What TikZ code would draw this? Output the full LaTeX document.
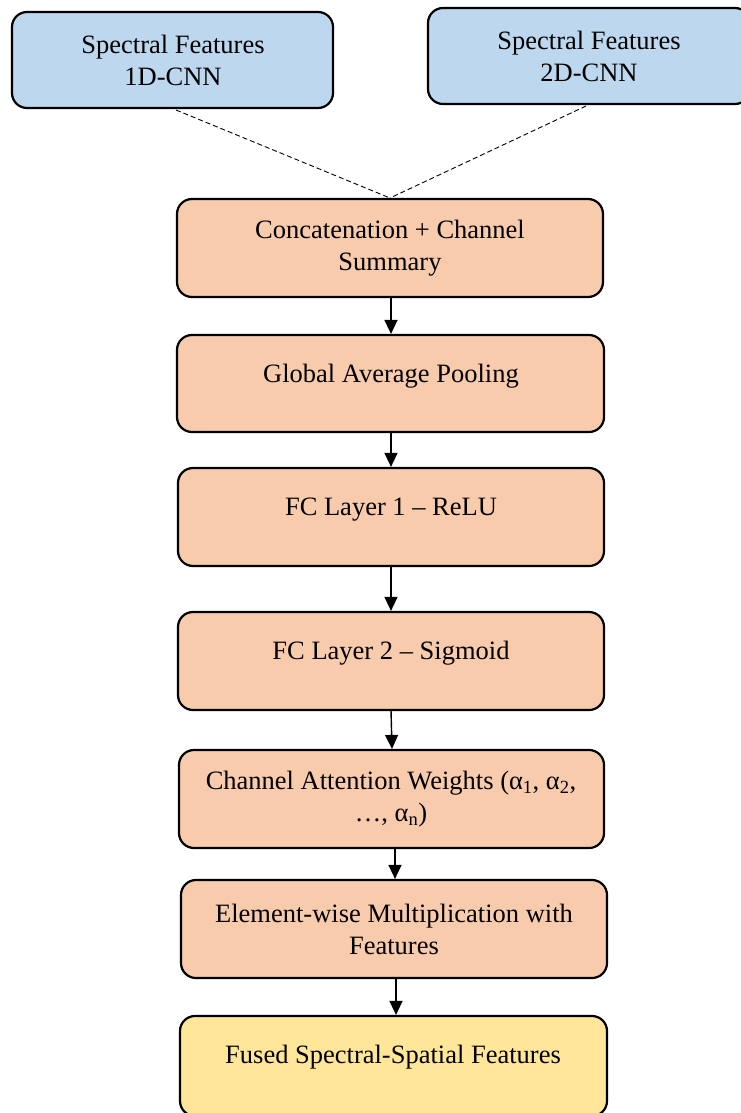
\documentclass[tikz,border=0pt]{standalone}
\usepackage{fontspec}
\setmainfont{Liberation Serif}
\usetikzlibrary{arrows.meta}
\definecolor{bluefill}{HTML}{BDD7EE}
\definecolor{orangefill}{HTML}{F8CBAD}
\definecolor{yellowfill}{HTML}{FFE699}
\tikzset{
  box/.style={draw=black, line width=2.2pt, rounded corners=15pt, inner sep=0pt},
  lbl/.style={font=\fontsize{26.5}{32}\selectfont, align=center, inner sep=0pt},
  arr/.style={line width=1.4pt, -{Triangle[width=13pt,length=14pt]}},
  dashline/.style={line width=0.9pt, dash pattern=on 5pt off 3pt}
}
\begin{document}
\begin{tikzpicture}[x=1pt,y=-1pt]
\useasboundingbox (0,0) rectangle (740,1113);
% boxes
\node[box, fill=bluefill, minimum width=321pt, minimum height=96pt] (a) at (172.5,60) {};
\node[box, fill=bluefill, minimum width=322pt, minimum height=96pt] (b) at (589,56) {};
\node[box, fill=orangefill, minimum width=426pt, minimum height=98pt] (c) at (390,248) {};
\node[box, fill=orangefill, minimum width=427pt, minimum height=97pt] (d) at (390.5,383.5) {};
\node[box, fill=orangefill, minimum width=426pt, minimum height=98pt] (e) at (391,517) {};
\node[box, fill=orangefill, minimum width=426pt, minimum height=98pt] (f) at (391,661) {};
\node[box, fill=orangefill, minimum width=425pt, minimum height=98pt] (g) at (391.5,799) {};
\node[box, fill=orangefill, minimum width=426pt, minimum height=98pt] (h) at (394,929) {};
\node[box, fill=yellowfill, minimum width=427pt, minimum height=100pt] (i) at (393.5,1066) {};
% labels
\node[lbl] (ta) at (173,60) {Spectral Features\\1D-CNN};
\node[lbl] (tb) at (589,56) {Spectral Features\\2D-CNN};
\node[lbl] (tc) at (390,248) {Concatenation + Channel\\Summary};
\node[lbl, anchor=base] (td) at (391,382) {Global Average Pooling};
\node[lbl, anchor=base] (te) at (391,515) {FC Layer 1 -- ReLU};
\node[lbl, anchor=base] (tf) at (391,659) {FC Layer 2 -- Sigmoid};
\node[lbl] (tg) at (391,799) {Channel Attention Weights (α\textsubscript{1}, α\textsubscript{2},\\…, α\textsubscript{n})};
\node[lbl] (th) at (394,929) {Element-wise Multiplication with\\Features};
\node[lbl, anchor=base] (ti) at (393,1063) {Fused Spectral-Spatial Features};
% connectors
\coordinate (m) at (390,198);
\draw[dashline] (176,110) -- (m);
\draw[dashline] (586,106) -- (m);
\draw[arr] (c.south -| 391,0) -- (d.north -| 391,0);
\draw[arr] (d.south -| 391,0) -- (e.north -| 391,0);
\draw[arr] (e.south -| 391,0) -- (f.north -| 391,0);
\draw[arr] (391,710) -- (g.north -| 392,0);
\draw[arr] (g.south -| 395,0) -- (h.north -| 395,0);
\draw[arr] (h.south -| 396,0) -- (i.north -| 396,0);
\end{tikzpicture}
\end{document}
